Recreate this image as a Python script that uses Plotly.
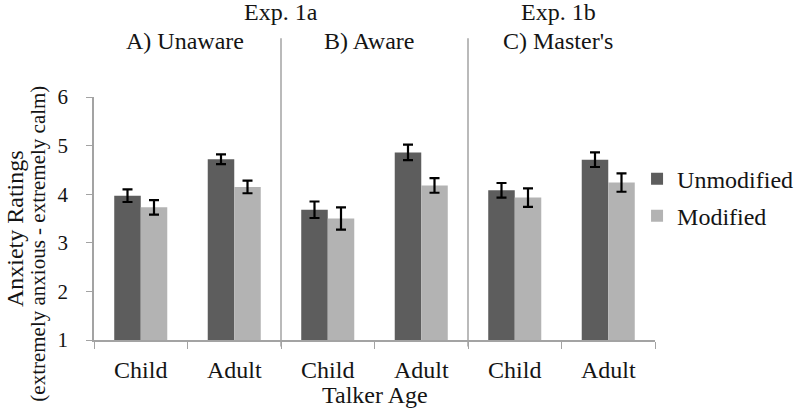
import plotly.graph_objects as go
from plotly.subplots import make_subplots

# ---- data ----
panels = ["A) Unaware", "B) Aware", "C) Master's"]
experiments = ["Exp. 1a", "Exp. 1b"]
talker_ages = ["Child", "Adult"]
series_names = ["Unmodified", "Modified"]

# values per panel: [Child, Adult] for A, B, C in order
unmodified = [3.97, 4.72, 3.68, 4.86, 4.08, 4.71]
unmodified_err = [0.13, 0.10, 0.17, 0.16, 0.15, 0.15]
modified = [3.73, 4.15, 3.50, 4.18, 3.93, 4.24]
modified_err = [0.15, 0.13, 0.23, 0.15, 0.19, 0.19]

y_ticks = [1, 2, 3, 4, 5, 6]

# ---- style ----
FONT = "Liberation Serif"
TXT = "#141414"
DARK = "#5d5d5d"
LIGHT = "#b3b3b3"
AXIS = "#a3a3a3"


def f(size):
    return dict(family=FONT, size=size, color=TXT)


fig = make_subplots(rows=1, cols=3, shared_yaxes=True, horizontal_spacing=0)

for p in range(3):
    sl = slice(2 * p, 2 * p + 2)
    for name, vals, errs, col in [
        (series_names[0], unmodified[sl], unmodified_err[sl], DARK),
        (series_names[1], modified[sl], modified_err[sl], LIGHT),
    ]:
        fig.add_trace(
            go.Bar(
                x=talker_ages,
                y=vals,
                name=name,
                marker=dict(color=col, line=dict(width=0)),
                error_y=dict(type="data", array=errs, visible=True,
                             color="#000000", thickness=2.2, width=5),
                showlegend=(p == 0),
                legendgroup=name,
            ),
            row=1, col=p + 1,
        )

fig.update_layout(
    width=800, height=410,
    margin=dict(l=94, r=145, t=97, b=70, autoexpand=False),
    paper_bgcolor="white", plot_bgcolor="white",
    font=f(24),
    barmode="group", bargap=0.433, bargroupgap=0,
    legend=dict(x=0.968, xanchor="left", y=0.755, yanchor="top",
                font=f(24), bgcolor="rgba(0,0,0,0)", tracegroupgap=3),
)

for i in range(1, 4):
    fig.update_xaxes(
        type="category", tickson="boundaries", ticks="outside", ticklen=7,
        tickcolor=AXIS, showline=True, linecolor=AXIS, linewidth=1.5,
        showgrid=False, tickfont=f(24),
        ticklabelstandoff=7, automargin=False, row=1, col=i,
    )
    fig.update_yaxes(range=[1, 6], showgrid=False, zeroline=False,
                     automargin=False, row=1, col=i)

fig.update_yaxes(
    tickvals=y_ticks, ticks="outside", ticklen=6, tickcolor=AXIS,
    showline=True, linecolor=AXIS, linewidth=1.5,
    tickfont=f(21), ticklabelstandoff=14,
    row=1, col=1,
)
fig.update_yaxes(showline=False, ticks="", row=1, col=2)
fig.update_yaxes(showline=False, ticks="", row=1, col=3)

# panel separators (extend above the plot like in the reference)
for ax in ["x2", "x3"]:
    fig.add_shape(type="line", xref=f"{ax} domain", yref="paper",
                  x0=0, x1=0, y0=-0.027, y1=1.242,
                  line=dict(color=AXIS, width=1.5))

ann = []
# panel titles
title_x = [0.484, 0.472, 0.48]
for i, t in enumerate(panels):
    ann.append(dict(text=t, xref=f"x{'' if i == 0 else i + 1} domain", yref="paper",
                    x=title_x[i], y=1.232, xanchor="center", yanchor="middle",
                    showarrow=False, font=f(24)))
# experiment labels
ann.append(dict(text=experiments[0], xref="x2 domain", yref="paper", x=0, y=1.348,
                xanchor="center", yanchor="middle", showarrow=False, font=f(24)))
ann.append(dict(text=experiments[1], xref="x3 domain", yref="paper", x=0.482, y=1.348,
                xanchor="center", yanchor="middle", showarrow=False, font=f(24)))
# x title
ann.append(dict(text="Talker Age", xref="x2 domain", yref="paper", x=0.5, y=-0.225,
                xanchor="center", yanchor="middle", showarrow=False, font=f(24)))
# y title, two lines of different size
ann.append(dict(text="Anxiety Ratings", xref="paper", yref="paper",
                x=-0.142, y=0.458, xanchor="center", yanchor="middle",
                textangle=-90, showarrow=False, font=f(24)))
ann.append(dict(text="(extremely anxious - extremely calm)", xref="paper", yref="paper",
                x=-0.100, y=0.396, xanchor="center", yanchor="middle",
                textangle=-90, showarrow=False, font=f(21)))
fig.update_layout(annotations=ann)

fig.write_html("out.html", config={"displayModeBar": False},
               post_script='document.body.style.margin="0";')
